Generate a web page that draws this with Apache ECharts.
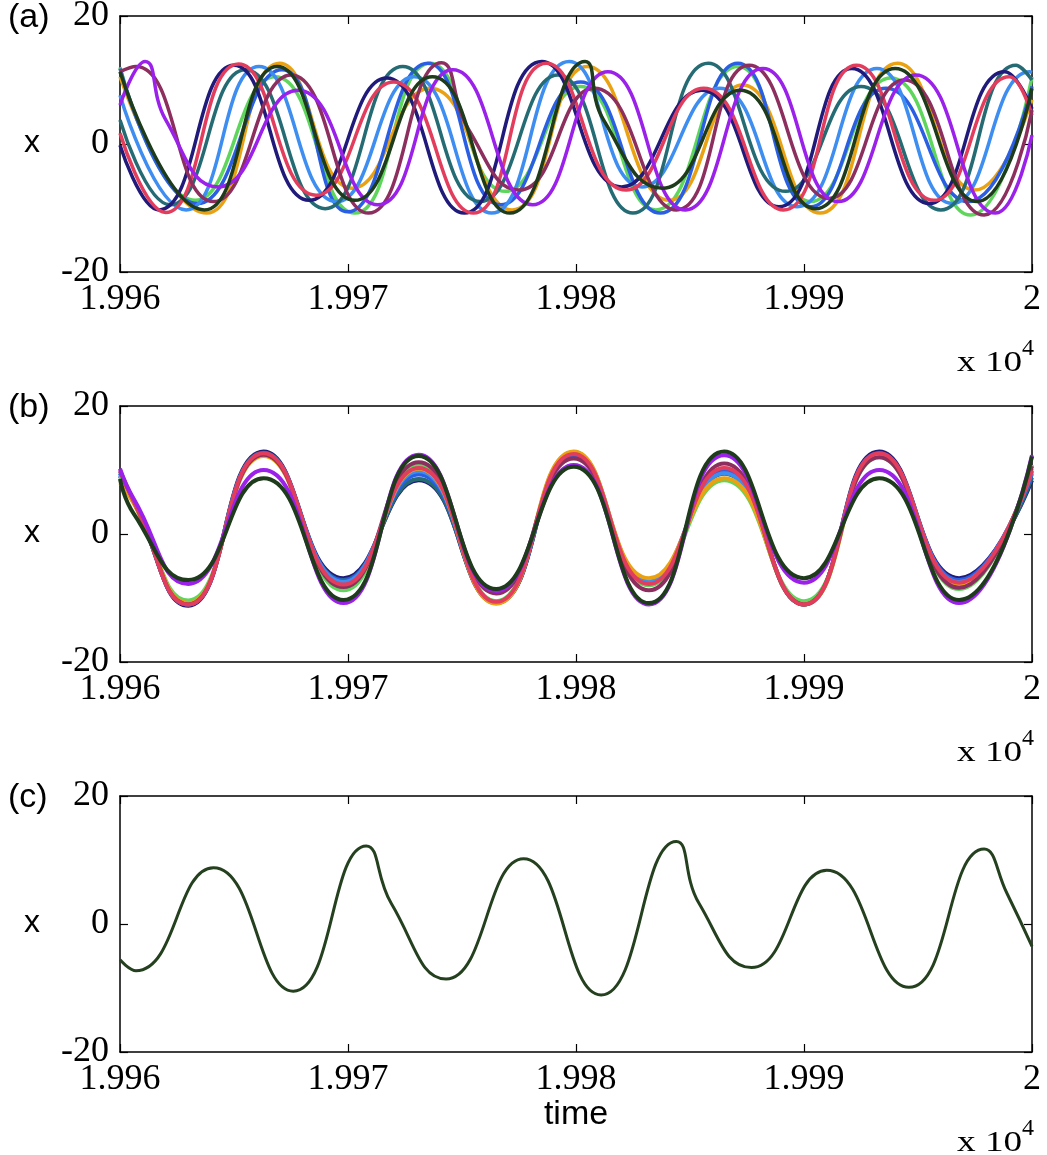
<!DOCTYPE html>
<html><head><meta charset="utf-8">
<script src="https://cdn.jsdelivr.net/npm/echarts@6/dist/echarts.min.js"></script>
<style>html,body{margin:0;padding:0;background:#fff}#chart{width:1047px;height:1155px}</style>
</head><body><div id="chart"></div>
<script>
// ---- axes (time in units; labels shown as value / 10^4) ----
const xTicks = [19960, 19970, 19980, 19990, 20000];
const yTicks = [-20, 0, 20];

// ---- panel (a): unsynchronised oscillators, [time, x] at extrema ----
const a_navy   = [[19960,-0.2],[19961.7,-10.3],[19965.0,12.3],[19968.3,-8.8],[19971.7,10.3],[19975.1,-10.8],[19978.5,12.9],[19982.0,-6.7],[19985.5,8.4],[19988.9,-9.8],[19992.1,11.8],[19995.5,-9.3],[19998.8,11.3],[20000,5.5]];
const a_red    = [[19960,1.7],[19962.0,-10.7],[19965.2,12.5],[19968.6,-8.0],[19972.0,9.7],[19975.5,-10.8],[19978.7,12.6],[19982.2,-7.2],[19985.6,8.7],[19989.1,-10.3],[19992.3,12.3],[19995.7,-8.8],[19999.0,10.5],[20000,4.5]];
const a_teal   = [[19960,3.75],[19962.2,-9.5],[19965.5,11.6],[19969.0,-10.1],[19972.4,12.1],[19975.8,-9.0],[19979.2,10.8],[19982.5,-10.8],[19985.8,12.6],[19989.2,-7.4],[19992.5,9.0],[19996.0,-10.3],[19999.3,12.3],[20000,10.0]];
const a_lblue  = [[19960,7.6],[19962.9,-10.3],[19966.1,12.1],[19969.5,-9.0],[19972.9,10.5],[19976.3,-10.8],[19979.7,12.9],[19982.9,-6.7],[19986.3,8.7],[19989.7,-9.8],[19993.2,11.8],[19996.5,-9.3],[19999.9,11.3],[20000,11.2]];
const a_blue   = [[19960,11.8],[19963.4,-9.3],[19967.1,11.6],[19970.0,-10.6],[19973.5,12.6],[19976.7,-9.5],[19980.2,9.7],[19983.7,-10.8],[19987.1,12.6],[19990.3,-9.8],[19993.6,8.7],[19997.2,-9.0],[20000,9.0]];
const a_green  = [[19960,12.0],[19963.3,-8.8],[19966.8,10.5],[19970.3,-10.8],[19973.6,12.6],[19976.9,-7.4],[19980.2,9.0],[19983.5,-10.3],[19987.1,12.1],[19990.3,-9.0],[19993.8,10.3],[19997.3,-11.1],[20000,10.5]];
const a_orange = [[19960,10.5],[19963.8,-10.8],[19967.0,12.6],[19970.2,-6.9],[19973.6,8.7],[19977.2,-10.3],[19980.5,12.1],[19984.1,-8.8],[19987.3,9.2],[19990.7,-10.8],[19994.1,12.6],[19997.5,-7.2],[20000,6.9]];
const a_olive  = [[19960,11.3],[19963.7,-10.3],[19966.9,12.1],[19970.3,-8.8],[19973.7,10.5],[19977.1,-10.8],[19980.4,12.9],[19981.2,3.8],[19983.8,-6.9],[19987.2,8.4],[19990.5,-10.1],[19994.0,11.8],[19997.6,-9.0],[20000,8.7]];
const a_maroon = [[19960,11.3],[19960.7,12.1],[19964.1,-9.0],[19967.5,10.8],[19970.9,-10.8],[19974.1,12.7],[19975.3,2.2],[19977.5,-7.2],[19980.8,8.7],[19984.4,-10.3],[19987.6,12.3],[19991.1,-8.5],[19994.4,10.0],[19997.9,-11.1],[20000,5.3]];
const a_purple = [[19960,6.1],[19961.1,12.9],[19962.0,3.8],[19964.3,-6.7],[19967.8,8.4],[19971.3,-9.5],[19974.6,11.6],[19978.1,-9.5],[19981.4,11.3],[19984.8,-10.3],[19988.2,11.8],[19991.5,-9.0],[19994.9,10.8],[19998.4,-10.8],[20000,1.4]];

// ---- panel (b): nearly synchronised; shared sample times (extrema), values per oscillator ----
const b_times  = [19960,19960.6,19963.0,19966.3,19969.8,19973.1,19976.5,19979.9,19983.2,19986.5,19990.0,19993.3,19996.8,20000];
const b_navy   = [9.0,5.0,-11.2,12.9,-6.9,8.4,-10.8,12.3,-7.6,9.6,-11.0,12.9,-6.9,8.4];
const b_red    = [10.0,5.2,-11.0,12.6,-7.9,10.3,-10.6,12.5,-7.8,10.3,-11.0,12.6,-7.6,9.9];
const b_teal   = [9.5,5.0,-11.0,12.7,-7.2,8.6,-10.7,12.2,-7.9,9.4,-11.0,12.5,-7.4,8.8];
const b_lblue  = [9.5,5.0,-11.0,12.5,-7.5,9.8,-10.6,12.7,-7.5,9.5,-11.0,12.4,-7.5,9.7];
const b_blue   = [9.2,5.0,-11.0,12.6,-7.3,9.3,-10.7,12.4,-7.3,9.8,-11.0,12.6,-7.2,9.4];
const b_green  = [9.0,5.0,-10.4,12.3,-8.8,10.8,-10.5,12.8,-8.0,8.4,-10.5,12.0,-8.6,10.8];
const b_orange = [8.0,4.8,-10.8,12.2,-8.1,10.2,-10.9,12.9,-6.9,8.7,-11.0,12.2,-8.0,10.2];
const b_maroon = [9.8,5.2,-11.0,12.4,-8.3,11.2,-9.3,11.8,-8.8,11.0,-11.0,12.0,-8.4,10.6];
const b_purple = [10.2,5.5,-7.8,10.0,-10.8,12.4,-8.9,10.8,-11.0,12.3,-7.6,10.0,-10.8,12.3];
const b_olive  = [8.6,3.2,-7.2,8.7,-10.3,12.2,-8.6,10.5,-10.8,12.9,-6.9,8.7,-10.3,12.1];

// ---- panel (c): single oscillator (extrema + shoulders) ----
const c_times  = [19960,19960.7,19964.1,19967.6,19970.8,19971.9,19974.3,19977.7,19981.1,19984.4,19985.4,19987.7,19991.0,19994.6,19997.9,19998.9,20000];
const c_values = [-5.6,-7.3,8.8,-10.5,12.2,3.2,-8.6,10.2,-11.1,12.9,3.2,-6.8,8.4,-9.9,11.7,4.8,-3.5];

const COL = {navy:'#201a7a', red:'#e23d5c', teal:'#246b74', lblue:'#3d8ef0', blue:'#2b5fe3',
             green:'#5ed65c', orange:'#eaa212', olive:'#1e3b1b', maroon:'#8c2f5e', purple:'#9a20ea', single:'#24401f'};

const pair = (t, v) => t.map((x, i) => [x, v[i]]);

const grids = [16, 406, 796].map(top => ({left:120, right:15, top:top, height:256, outerBoundsMode:'none', containLabel:false}));

const serif = '"Liberation Serif","Times New Roman",serif';
const sans = '"Liberation Sans",Arial,sans-serif';
const frame = {show:true, onZero:false, lineStyle:{color:'#000', width:1.5}};
const tick = {show:true, inside:true, length:8, lineStyle:{color:'#000', width:1.2}};

const xAxes = [], yAxes = [];
for (let g = 0; g < 3; g++) {
  const xb = {type:'value', gridIndex:g, min:xTicks[0], max:xTicks[xTicks.length-1], interval:xTicks[1]-xTicks[0],
    position:'bottom', axisLine:frame, axisTick:tick, splitLine:{show:false},
    axisLabel:{show:true, fontFamily:serif, fontSize:36, color:'#000', margin:10,
      formatter: v => String(+(v/1e4).toFixed(3))}};
  xAxes.push(xb);
  xAxes.push(Object.assign({}, xb, {position:'top', axisLabel:{show:false}}));
  const yl = {type:'value', gridIndex:g, min:yTicks[0], max:yTicks[yTicks.length-1], interval:yTicks[1]-yTicks[0],
    position:'left', axisLine:frame, axisTick:tick, splitLine:{show:false},
    axisLabel:{show:true, fontFamily:serif, fontSize:36, color:'#000', margin:11}};
  yAxes.push(yl);
  yAxes.push(Object.assign({}, yl, {position:'right', axisLabel:{show:false}}));
}

function line(data, color, g, width) {
  return {type:'line', data:data, xAxisIndex:2*g, yAxisIndex:2*g, showSymbol:false, symbol:'none',
    smooth:0.5, lineStyle:{color:color, width:width}, itemStyle:{color:color}, animation:false, silent:true, clip:true};
}

const series = [
  line(a_green, COL.green, 0, 3.5), line(a_orange, COL.orange, 0, 3.5), line(a_blue, COL.blue, 0, 3.5),
  line(a_lblue, COL.lblue, 0, 3.5), line(a_teal, COL.teal, 0, 3.5), line(a_navy, COL.navy, 0, 3.5),
  line(a_red, COL.red, 0, 3.5), line(a_maroon, COL.maroon, 0, 3.5), line(a_purple, COL.purple, 0, 3.5),
  line(a_olive, COL.olive, 0, 3.5),
  line(pair(b_times, b_navy), COL.navy, 1, 4), line(pair(b_times, b_teal), COL.teal, 1, 4),
  line(pair(b_times, b_blue), COL.blue, 1, 4), line(pair(b_times, b_lblue), COL.lblue, 1, 4),
  line(pair(b_times, b_green), COL.green, 1, 4), line(pair(b_times, b_orange), COL.orange, 1, 4),
  line(pair(b_times, b_maroon), COL.maroon, 1, 4), line(pair(b_times, b_red), COL.red, 1, 4),
  line(pair(b_times, b_purple), COL.purple, 1, 4), line(pair(b_times, b_olive), COL.olive, 1, 4),
  line(pair(c_times, c_values), COL.single, 2, 3)
];

const graphic = [];
['(a)','(b)','(c)'].forEach((s, i) => {
  const off = 390 * i;
  graphic.push({type:'text', x:8, y:18 + off, style:{text:s, font:'34px ' + sans, fill:'#000', align:'left', verticalAlign:'middle'}});
  graphic.push({type:'text', x:32, y:143 + off, style:{text:'x', font:'32px ' + sans, fill:'#000', align:'center', verticalAlign:'middle'}});
  graphic.push({type:'text', x:957, y:363 + off, scaleX:1.24, style:{text:'x 10', font:'30px ' + serif, fill:'#000', align:'left', verticalAlign:'middle'}});
  graphic.push({type:'text', x:1022, y:349 + off, style:{text:'4', font:'24px ' + serif, fill:'#000', align:'left', verticalAlign:'middle'}});
});
graphic.push({type:'text', x:576, y:1115, style:{text:'time', font:'34px ' + sans, fill:'#000', align:'center', verticalAlign:'middle'}});

const chart = echarts.init(document.getElementById('chart'), null, {renderer:'canvas'});
chart.setOption({animation:false, backgroundColor:'#fff', grid:grids, xAxis:xAxes, yAxis:yAxes, series:series, graphic:graphic});
</script></body></html>
